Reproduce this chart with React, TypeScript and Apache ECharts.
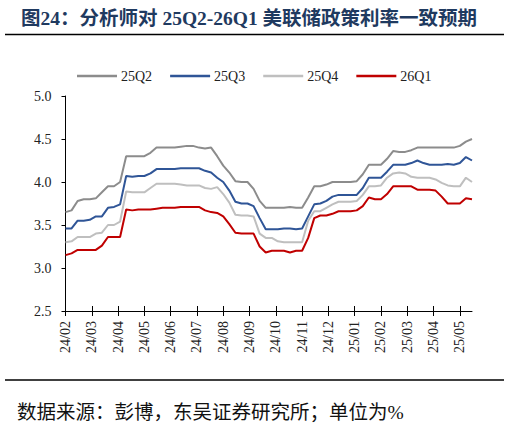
import { useEffect, useRef } from 'react';
import * as echarts from 'echarts';

// weekly consensus path, 2024-02 to 2025-05 (%)
const q225 = [
  3.65, 3.67, 3.78, 3.8, 3.8, 3.81, 3.88, 3.95, 3.95, 4.0,
  4.3, 4.3, 4.3, 4.3, 4.34, 4.4, 4.4, 4.4, 4.4, 4.41,
  4.42, 4.42, 4.4, 4.39, 4.4, 4.3, 4.19, 4.11, 4.01, 4.0,
  4.0, 3.92, 3.78, 3.7, 3.7, 3.7, 3.7, 3.71, 3.7, 3.7,
  3.82, 3.95, 3.95, 3.97, 4.0, 4.0, 4.0, 4.0, 4.01, 4.09,
  4.2, 4.2, 4.2, 4.27, 4.36, 4.35, 4.35, 4.37, 4.4, 4.4,
  4.4, 4.4, 4.4, 4.4, 4.4, 4.42, 4.47, 4.5,
];
const q325 = [
  3.46, 3.46, 3.55, 3.55, 3.56, 3.6, 3.6, 3.7, 3.71, 3.74,
  4.07, 4.06, 4.07, 4.07, 4.1, 4.15, 4.15, 4.15, 4.15, 4.16,
  4.16, 4.16, 4.16, 4.13, 4.11, 4.05, 4.0, 3.9, 3.77, 3.75,
  3.75, 3.72, 3.58, 3.45, 3.45, 3.45, 3.46, 3.46, 3.45, 3.46,
  3.6, 3.74, 3.75, 3.78, 3.83, 3.85, 3.85, 3.85, 3.85, 3.93,
  4.05, 4.05, 4.05, 4.12, 4.2, 4.2, 4.2, 4.22, 4.25, 4.22,
  4.2, 4.2, 4.2, 4.21, 4.2, 4.22, 4.29, 4.25,
];
const q425 = [
  3.3, 3.31, 3.36, 3.36, 3.36, 3.4, 3.41, 3.5, 3.5, 3.54,
  3.89, 3.88, 3.88, 3.88, 3.93, 3.98, 3.98, 3.98, 3.98, 3.97,
  3.96, 3.96, 3.96, 3.93, 3.92, 3.94, 3.86, 3.76, 3.62, 3.61,
  3.61, 3.6, 3.4, 3.35, 3.35, 3.31, 3.3, 3.3, 3.3, 3.3,
  3.55, 3.66, 3.66, 3.7, 3.74, 3.77, 3.77, 3.77, 3.78, 3.85,
  3.95, 3.95, 3.96, 4.05, 4.1, 4.11, 4.1, 4.06, 4.05, 4.05,
  4.05, 4.03, 3.99, 3.96, 3.95, 3.95, 4.05, 4.0,
];
const q126 = [
  3.15, 3.17, 3.21, 3.21, 3.21, 3.21, 3.26, 3.36, 3.36, 3.36,
  3.68, 3.67, 3.68, 3.68, 3.68, 3.69, 3.7, 3.7, 3.7, 3.71,
  3.71, 3.71, 3.71, 3.67, 3.65, 3.64, 3.6, 3.51, 3.41, 3.4,
  3.4, 3.4, 3.25, 3.18, 3.2, 3.2, 3.2, 3.18, 3.2, 3.2,
  3.35, 3.58, 3.61, 3.61, 3.63, 3.66, 3.66, 3.66, 3.67, 3.72,
  3.82, 3.8, 3.8, 3.86, 3.95, 3.95, 3.95, 3.95, 3.91, 3.91,
  3.91, 3.9, 3.83, 3.75, 3.75, 3.75, 3.81, 3.8,
];
const monthLabels = [
  '24/02', '24/03', '24/04', '24/05', '24/06', '24/07', '24/08', '24/09',
  '24/10', '24/11', '24/12', '25/01', '25/02', '25/03', '25/04', '25/05',
];
const seriesNames = ['25Q2', '25Q3', '25Q4', '26Q1'];
const yTicks = [2.5, 3.0, 3.5, 4.0, 4.5, 5.0];

const SERIF = "'Liberation Serif', 'Noto Sans CJK SC', serif";
const colors = ['#8c8c8c', '#2f5597', '#bfbfbf', '#c00000'];

// x position of weekly observations, in months since 24/02
const weekToMonth = (i: number) => (i * 12) / 52;
const monthTicks = monthLabels.map((_, i) => i);

export default function App() {
  const chartRef = useRef<HTMLDivElement>(null);

  useEffect(() => {
    if (!chartRef.current) return;
    const chart = echarts.init(chartRef.current, undefined, { renderer: 'svg' });

    const lists = [q225, q325, q425, q126];
    const xMax = weekToMonth(q225.length - 1);
    const grid = { left: 65.5, right: 37, top: 96, bottom: 117 };

    const option: echarts.EChartsOption = {
      animation: false,
      backgroundColor: '#fff',
      title: {
        text: '图24：分析师对 25Q2-26Q1 美联储政策利率一致预期',
        left: 16,
        top: 4,
        textStyle: {
          fontFamily: SERIF,
          fontSize: 19.5,
          fontWeight: 'bold',
          color: '#1f3a60',
        },
      },
      legend: {
        data: seriesNames,
        left: 72,
        top: 64,
        icon: 'rect',
        itemWidth: 40,
        itemHeight: 2.5,
        itemGap: 18,
        textStyle: { fontFamily: SERIF, fontSize: 14, color: '#222', padding: [0, 0, 0, -1] },
      },
      grid: [grid, { ...grid }],
      xAxis: [
        {
          type: 'value',
          min: 0,
          max: xMax,
          interval: 1,
          splitLine: { show: false },
          axisLine: { lineStyle: { color: '#000', width: 1 } },
          axisTick: { length: 5, lineStyle: { color: '#000' }, customValues: monthTicks },
          axisLabel: {
            rotate: 90,
            margin: 10,
            fontFamily: SERIF,
            fontSize: 14,
            color: '#222',
            customValues: monthTicks,
            formatter: (v: number) => monthLabels[Math.round(v)] ?? '',
          },
        },
        {
          type: 'value',
          gridIndex: 1,
          position: 'bottom',
          min: 0,
          max: xMax,
          interval: 1,
          splitLine: { show: false },
          axisLine: { show: false },
          axisTick: { inside: true, length: 5, lineStyle: { color: '#000' }, customValues: monthTicks },
          axisLabel: { show: false },
        },
      ],
      yAxis: [
        {
          type: 'value',
          min: yTicks[0],
          max: yTicks[yTicks.length - 1],
          interval: 0.5,
          splitLine: { show: false },
          axisLine: { show: true, lineStyle: { color: '#000', width: 1 } },
          axisTick: { show: true, length: 4, lineStyle: { color: '#000' } },
          axisLabel: {
            margin: 14,
            fontFamily: SERIF,
            fontSize: 14,
            color: '#222',
            formatter: (v: number) => v.toFixed(1),
          },
        },
        {
          type: 'value',
          gridIndex: 1,
          min: yTicks[0],
          max: yTicks[yTicks.length - 1],
          show: false,
        },
      ],
      series: seriesNames.map((name, k) => ({
        name,
        type: 'line',
        symbol: 'none',
        color: colors[k],
        lineStyle: { width: 2, color: colors[k] },
        data: lists[k].map((v, i) => [weekToMonth(i), v]),
      })),
      graphic: [
        {
          type: 'line',
          shape: { x1: 5, y1: 34.5, x2: 504, y2: 34.5 },
          style: { stroke: '#000', lineWidth: 1.5 },
        },
        {
          type: 'line',
          shape: { x1: 5, y1: 380, x2: 504, y2: 380 },
          style: { stroke: '#000', lineWidth: 1.5 },
        },
        {
          type: 'text',
          left: 17,
          top: 403,
          style: {
            text: '数据来源：彭博，东吴证券研究所；单位为%',
            font: `19.5px ${SERIF}`,
            fill: '#111',
          },
        },
      ],
    };

    chart.setOption(option);
    return () => chart.dispose();
  }, []);

  return (
    <div
      ref={chartRef}
      style={{ position: 'fixed', left: 0, top: 0, width: 509, height: 428 }}
    />
  );
}
